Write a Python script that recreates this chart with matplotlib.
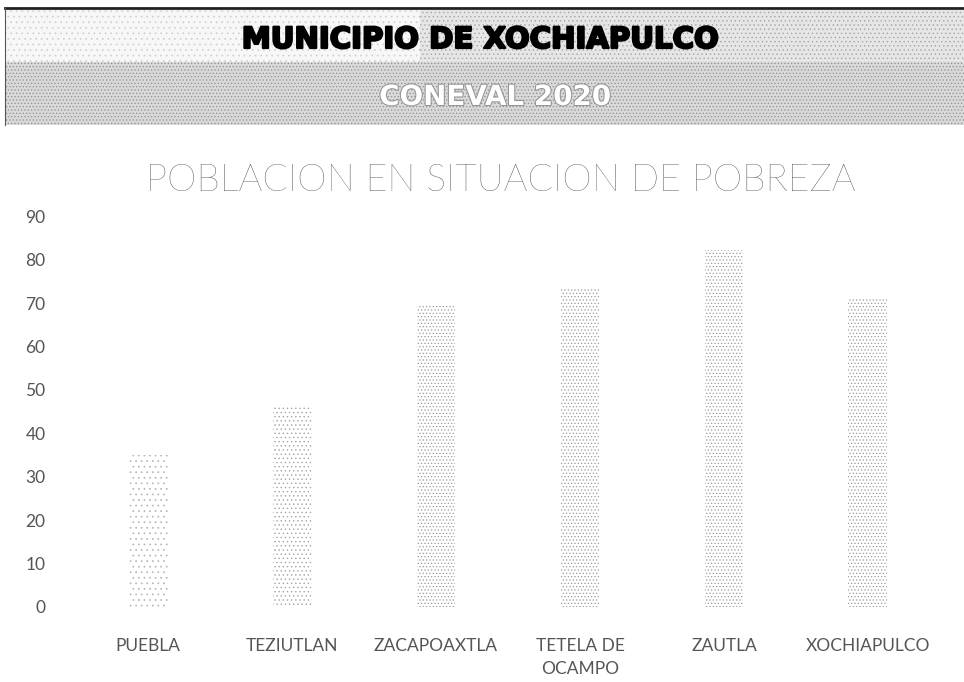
import matplotlib
matplotlib.use('Agg')
import matplotlib.pyplot as plt
import matplotlib.patheffects as pe
from matplotlib.patches import Rectangle

# datos CONEVAL 2020 (porcentaje de poblacion en pobreza)
municipios = ['PUEBLA', 'TEZIUTLAN', 'ZACAPOAXTLA', 'TETELA DE\nOCAMPO', 'ZAUTLA', 'XOCHIAPULCO']
pobreza = [35, 46.5, 69.5, 73.3, 82.3, 71.2]
yticks = [0, 10, 20, 30, 40, 50, 60, 70, 80, 90]

plt.rcParams['font.family'] = ['Lato', 'DejaVu Sans']
plt.rcParams['hatch.linewidth'] = 0.5

fig = plt.figure(figsize=(9.64, 6.82), dpi=100)

# encabezado punteado
head = fig.add_axes([0, 0, 1, 1], zorder=0)
head.set_xlim(0, 964)
head.set_ylim(682, 0)
head.axis('off')
head.add_patch(Rectangle((5, 62), 959, 63, facecolor='#d9d9d9', edgecolor='#8f8f8f',
                         hatch='.....', linewidth=0))
head.add_patch(Rectangle((420, 10), 544, 52, facecolor='#e6e6e6', edgecolor='#a5a5a5',
                         hatch='....', linewidth=0))
head.add_patch(Rectangle((5, 10), 415, 52, facecolor='#f7f7f7', edgecolor='#cfcfcf',
                         hatch='...', linewidth=0))
head.plot([5, 964], [8, 8], color='#222222', lw=2)
head.plot([5, 5], [8, 125], color='#555555', lw=0.8)

m = head.text(480, 40, 'MUNICIPIO DE XOCHIAPULCO', ha='center', va='center',
              fontsize=21, fontweight='bold', color='black', family=['DejaVu Sans'])
m.set_path_effects([pe.Stroke(linewidth=1.6, foreground='black'), pe.Normal()])
t = head.text(495, 97, 'CONEVAL 2020', ha='center', va='center',
              fontsize=20, fontweight='bold', color='white', family=['DejaVu Sans'])
t.set_path_effects([pe.Stroke(linewidth=1.5, foreground='#959595'), pe.Normal()])

fig.text(0.52, 1 - 181 / 682, 'POBLACION EN SITUACION DE POBREZA', ha='center', va='center',
         fontsize=27, fontweight='light', color='#3a3a3a')

ax = fig.add_axes([0.079, 0.110, 0.896, 0.573], zorder=1)
ax.patch.set_alpha(0)
hatches = ['...', '....', '.....', '.....', '.....', '.....']
tonos = ['#b5b5b5', '#a5a5a5', '#9a9a9a', '#9a9a9a', '#9a9a9a', '#9a9a9a']
x = range(len(municipios))
bars = ax.bar(x, pobreza, width=0.27, color='white', linewidth=0)
for b, h, c in zip(bars, hatches, tonos):
    b.set_hatch(h)
    b.set_edgecolor(c)

ax.set_ylim(0, 90)
ax.set_xlim(-0.5, len(municipios) - 0.5)
ax.set_yticks(yticks)
ax.set_xticks(list(x))
ax.set_xticklabels(municipios, linespacing=1.6)
for s in ax.spines.values():
    s.set_visible(False)
ax.tick_params(axis='both', length=0, labelsize=12.5, labelcolor='#555555')
ax.tick_params(axis='y', pad=22)
ax.tick_params(axis='x', pad=22)

fig.savefig('out.png', dpi=100)
